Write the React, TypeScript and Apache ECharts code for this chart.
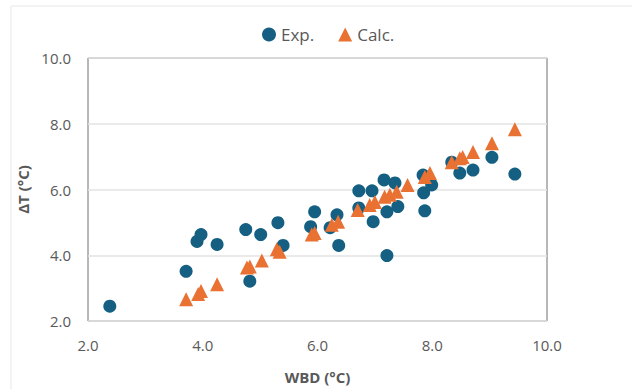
import React, { useEffect, useRef } from "react";
import * as echarts from "echarts";

const expX = [2.38, 3.71, 3.9, 3.97, 4.25, 4.75, 4.82, 5.01, 5.31, 5.4, 5.88, 5.95, 6.22, 6.34, 6.37, 6.72, 6.72, 6.95, 6.97, 7.16, 7.21, 7.21, 7.35, 7.4, 7.84, 7.85, 7.87, 7.99, 8.34, 8.48, 8.71, 9.04, 9.44];
const expY = [2.45, 3.51, 4.42, 4.63, 4.33, 4.78, 3.21, 4.63, 4.99, 4.3, 4.87, 5.32, 4.84, 5.23, 4.3, 5.96, 5.44, 5.96, 5.02, 6.29, 5.32, 3.99, 6.2, 5.48, 6.44, 5.9, 5.35, 6.14, 6.83, 6.5, 6.59, 6.98, 6.47];
const calcX = [3.71, 3.92, 3.97, 4.25, 4.77, 4.82, 5.03, 5.29, 5.34, 5.9, 5.95, 6.25, 6.36, 6.7, 6.91, 7.0, 7.17, 7.26, 7.38, 7.57, 7.87, 7.96, 8.34, 8.48, 8.53, 8.71, 9.04, 9.44];
const calcY = [2.66, 2.82, 2.91, 3.12, 3.63, 3.66, 3.84, 4.18, 4.11, 4.63, 4.68, 4.93, 5.02, 5.38, 5.53, 5.62, 5.78, 5.84, 5.93, 6.14, 6.38, 6.5, 6.83, 6.95, 6.99, 7.14, 7.41, 7.83];
const seriesNames = ["Exp.", "Calc."];

const FONT = "'Open Sans', 'Noto Sans', sans-serif";
const TXT = "#595959";

export default function App() {
  const ref = useRef<HTMLDivElement>(null);
  useEffect(() => {
    if (!ref.current) return;
    const chart = echarts.init(ref.current, undefined, { renderer: "svg" });
    const zip = (xs: number[], ys: number[]) => xs.map((x, i) => [x, ys[i]]);
    chart.setOption({
      animation: false,
      backgroundColor: "#ffffff",
      textStyle: { fontFamily: FONT },
      graphic: [
        {
          type: "rect",
          shape: { x: 11, y: 6, width: 640, height: 400 },
          style: { fill: "none", stroke: "#e8e8e8", lineWidth: 1 },
          silent: true,
        },
      ],
      legend: {
        top: 21,
        left: 257,
        itemGap: 24,
        itemTextGap: 4,
        itemWidth: 14,
        itemHeight: 14,
        textStyle: { color: TXT, fontSize: 17, fontFamily: FONT },
        data: [
          { name: seriesNames[0], icon: "circle" },
          { name: seriesNames[1], icon: "triangle" },
        ],
      },
      grid: {
        left: 88,
        right: 85,
        top: 58,
        bottom: 67,
        show: true,
        borderColor: "#6e6e6e",
        borderWidth: 1,
        backgroundColor: "#ffffff",
      },
      xAxis: {
        type: "value",
        min: 2,
        max: 10,
        interval: 2,
        name: "WBD (°C)",
        nameLocation: "middle",
        nameGap: 48,
        nameTextStyle: { color: TXT, fontSize: 15, fontWeight: "bold", fontFamily: FONT },
        axisLine: { show: false },
        axisTick: { show: false },
        axisLabel: { color: TXT, fontSize: 15, margin: 16, formatter: (v: number) => v.toFixed(1) },
        splitLine: { show: false },
      },
      yAxis: {
        type: "value",
        min: 2,
        max: 10,
        interval: 2,
        name: "ΔT (°C)",
        nameLocation: "middle",
        nameGap: 50,
        nameRotate: 90,
        nameTextStyle: { color: TXT, fontSize: 15, fontWeight: "bold", fontFamily: FONT },
        axisLine: { show: false },
        axisTick: { show: false },
        axisLabel: { color: TXT, fontSize: 15, margin: 17, formatter: (v: number) => v.toFixed(1) },
        splitLine: { show: true, lineStyle: { color: "#e3e3e3", width: 1.5 } },
      },
      series: [
        {
          name: seriesNames[0],
          type: "scatter",
          symbol: "circle",
          symbolSize: 13,
          itemStyle: { color: "#156082", opacity: 1 },
          data: zip(expX, expY),
        },
        {
          name: seriesNames[1],
          type: "scatter",
          symbol: "triangle",
          symbolSize: 14,
          itemStyle: { color: "#E97132", opacity: 1 },
          data: zip(calcX, calcY),
        },
      ],
    });
    return () => chart.dispose();
  }, []);
  return (
    <div
      ref={ref}
      style={{ position: "absolute", left: 0, top: 0, width: 632, height: 389 }}
    />
  );
}
